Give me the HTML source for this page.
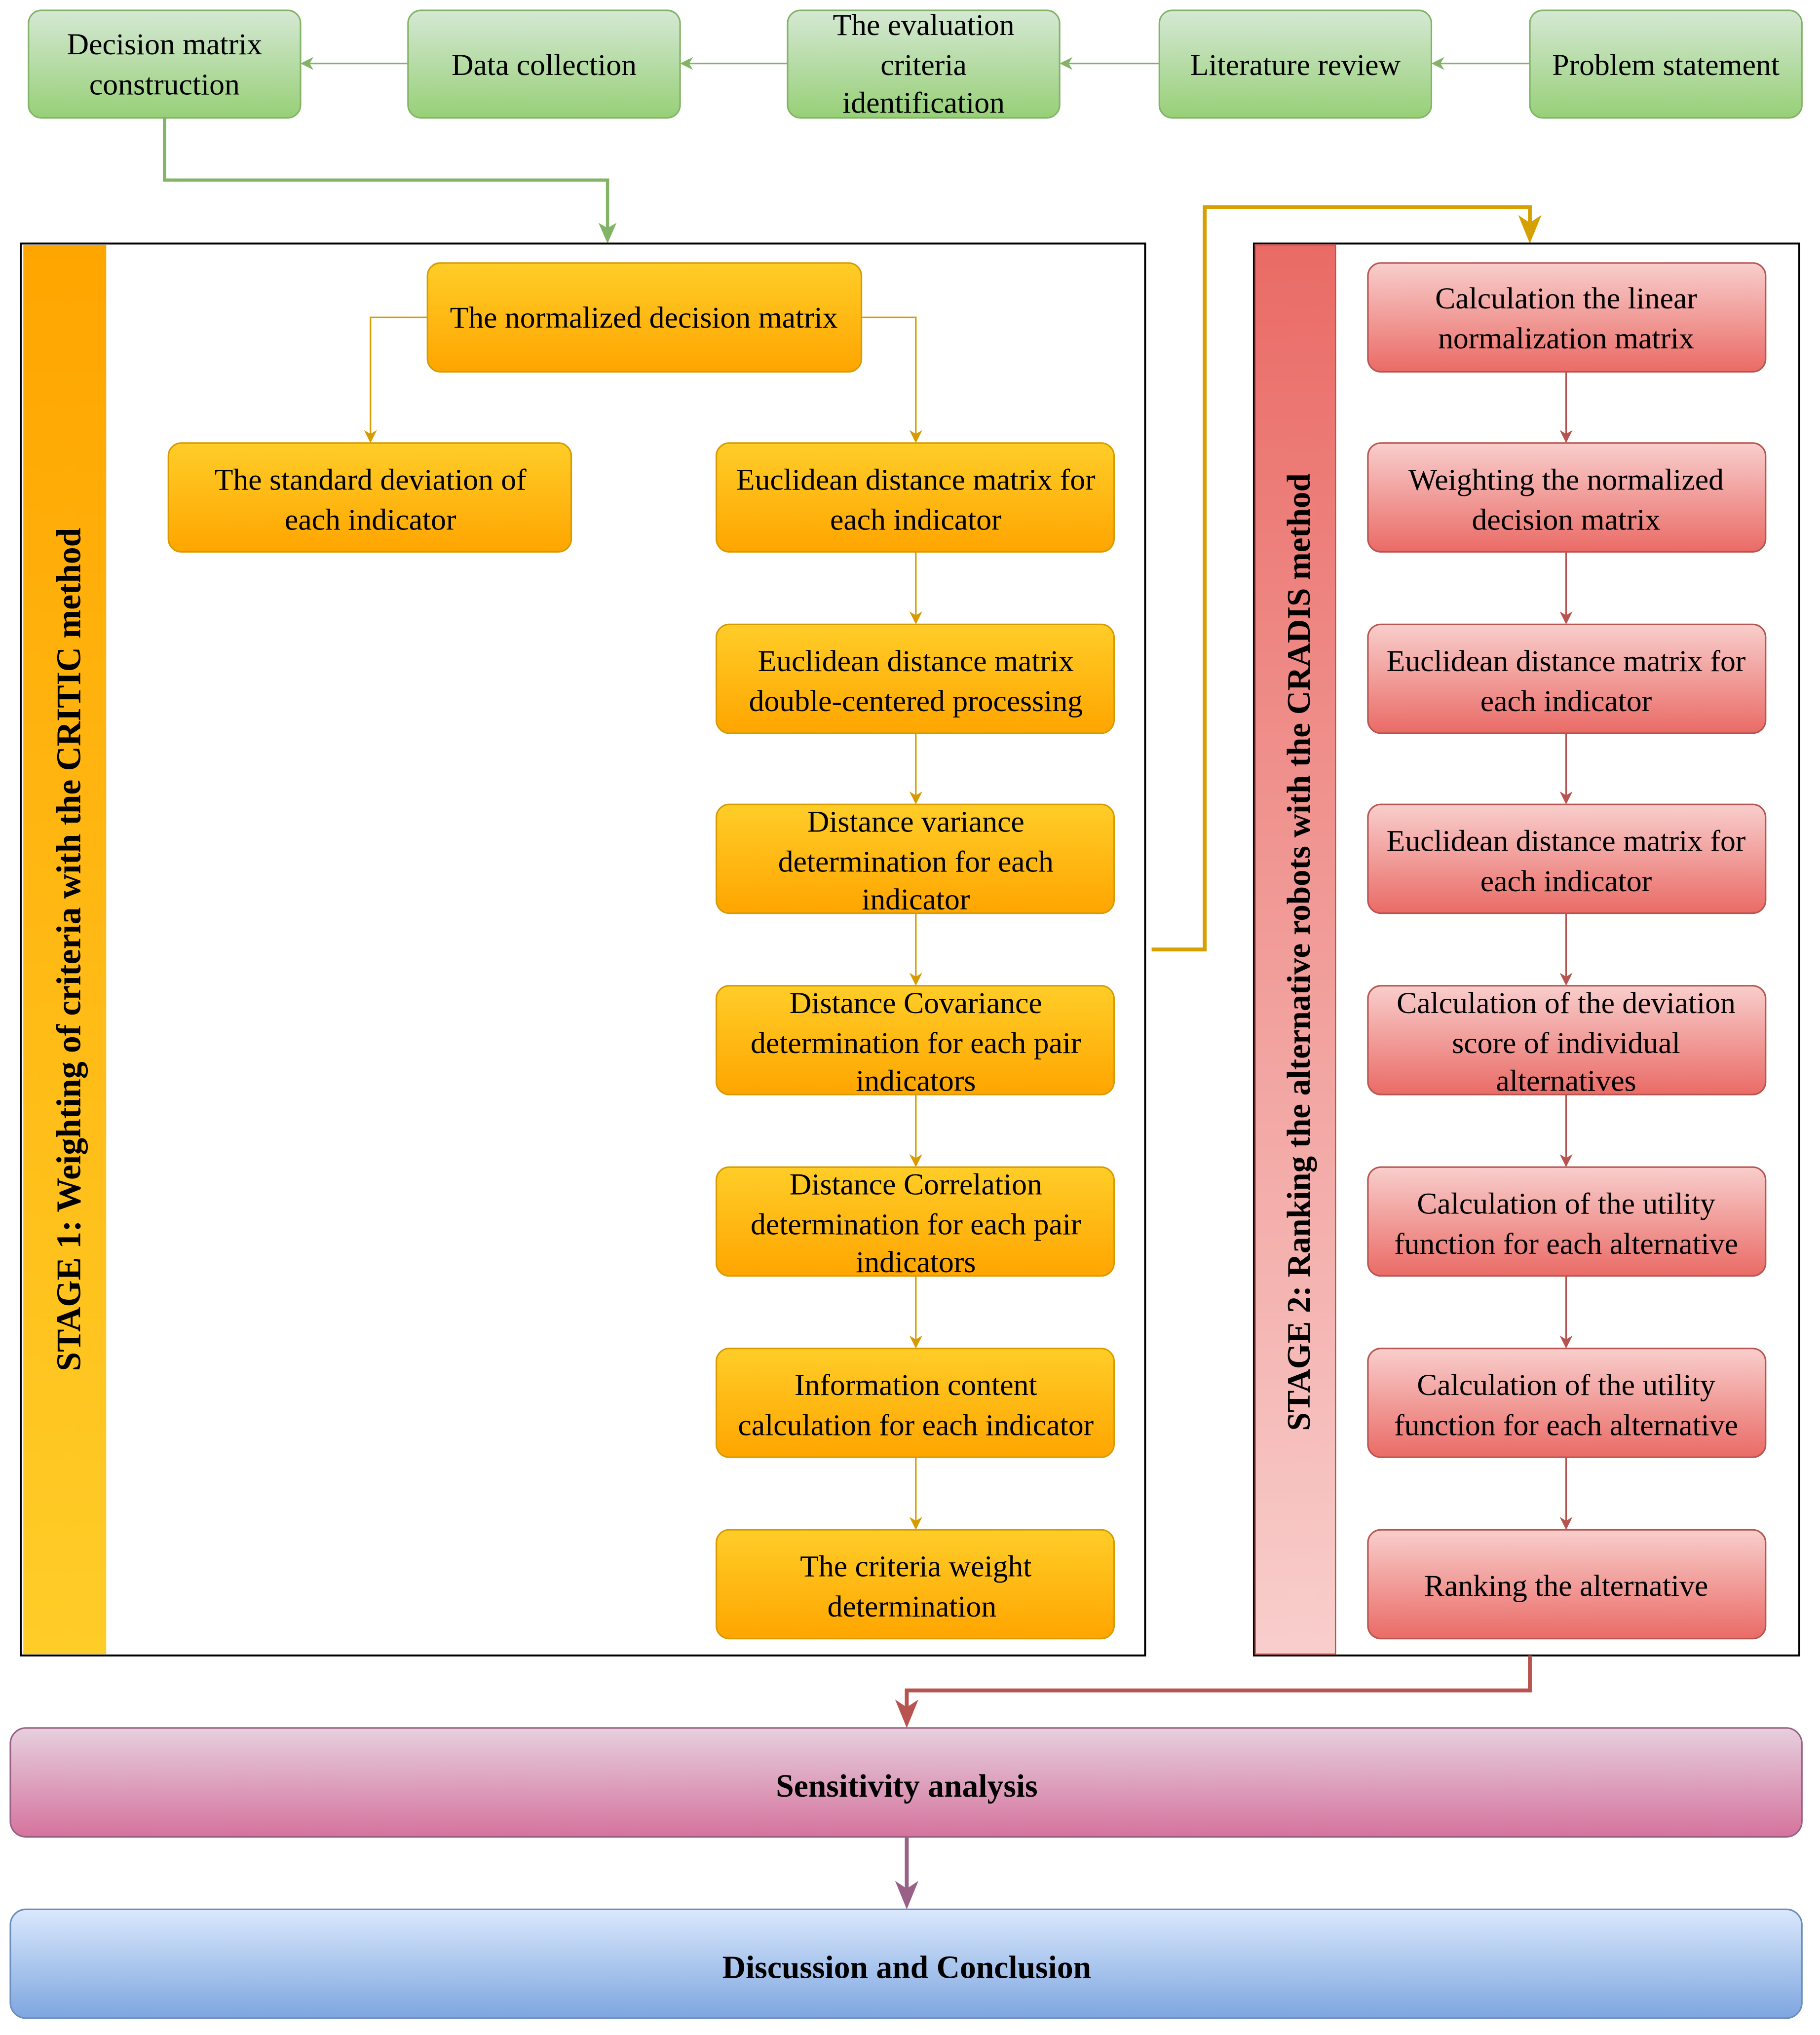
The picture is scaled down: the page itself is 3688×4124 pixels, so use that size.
<!DOCTYPE html>
<html><head><meta charset="utf-8"><style>html,body{margin:0;padding:0;background:#fff;}svg{display:block}</style></head>
<body>
<svg xmlns="http://www.w3.org/2000/svg" width="3688" height="4124" viewBox="0 0 1405 1571" preserveAspectRatio="none" style="font-family:'Liberation Serif',serif">
<defs>
<linearGradient id="g" x1="0" y1="0" x2="0" y2="1"><stop offset="0" stop-color="#d5e8d4"/><stop offset="1" stop-color="#97d077"/></linearGradient>
<linearGradient id="o" x1="0" y1="0" x2="0" y2="1"><stop offset="0" stop-color="#ffcd28"/><stop offset="1" stop-color="#ffa500"/></linearGradient>
<linearGradient id="ob" x1="0" y1="0" x2="0" y2="1"><stop offset="0" stop-color="#ffa500"/><stop offset="1" stop-color="#ffcd28"/></linearGradient>
<linearGradient id="r" x1="0" y1="0" x2="0" y2="1"><stop offset="0" stop-color="#f8cecc"/><stop offset="1" stop-color="#ea6b66"/></linearGradient>
<linearGradient id="rb" x1="0" y1="0" x2="0" y2="1"><stop offset="0" stop-color="#ea6b66"/><stop offset="1" stop-color="#f8cecc"/></linearGradient>
<linearGradient id="p" x1="0" y1="0" x2="0" y2="1"><stop offset="0" stop-color="#e6d0de"/><stop offset="1" stop-color="#d5739d"/></linearGradient>
<linearGradient id="b" x1="0" y1="0" x2="0" y2="1"><stop offset="0" stop-color="#dae8fc"/><stop offset="1" stop-color="#7ea6e0"/></linearGradient>
</defs>
<g font-size="23.5" text-anchor="middle" fill="#000">
<g fill="url(#g)" stroke="#82b366" stroke-width="1.2">
<rect x="22" y="8" width="210" height="83" rx="10"/>
<rect x="315" y="8" width="210" height="83" rx="10"/>
<rect x="608" y="8" width="210" height="83" rx="10"/>
<rect x="895" y="8" width="210" height="83" rx="10"/>
<rect x="1181" y="8" width="210" height="83" rx="10"/>
</g>
<text x="127" y="42">Decision matrix</text><text x="127" y="73">construction</text>
<text x="420" y="58">Data collection</text>
<text x="713" y="27">The evaluation</text><text x="713" y="58">criteria</text><text x="713" y="87">identification</text>
<text x="1000" y="58">Literature review</text>
<text x="1286" y="58">Problem statement</text>
<g stroke="#82b366" stroke-width="1.2" fill="none">
<line x1="315" y1="49" x2="236" y2="49"/><line x1="608" y1="49" x2="529" y2="49"/><line x1="895" y1="49" x2="822" y2="49"/><line x1="1181" y1="49" x2="1109" y2="49"/>
<polyline points="127,91 127,139 469,139 469,182" stroke-width="2.5"/>
</g>
<g fill="#82b366">
<polygon points="232,49 242,44 239,49 242,54"/><polygon points="525,49 535,44 532,49 535,54"/><polygon points="818,49 828,44 825,49 828,54"/><polygon points="1105,49 1115,44 1112,49 1115,54"/>
<polygon points="469,188 462,172 469,176 476,172"/>
</g>
<rect x="16" y="188" width="868" height="1090" fill="none" stroke="#000" stroke-width="1.5"/>
<rect x="18" y="189" width="64" height="1088" fill="url(#ob)"/>
<text transform="translate(62,733) rotate(-90)" font-weight="bold" font-size="26.5">STAGE 1: Weighting of criteria with the CRITIC method</text>
<g fill="url(#o)" stroke="#d79b00" stroke-width="1.2">
<rect x="330" y="203" width="335" height="84" rx="10"/>
<rect x="130" y="342" width="311" height="84" rx="10"/>
<rect x="553" y="342" width="307" height="84" rx="10"/>
<rect x="553" y="482" width="307" height="84" rx="10"/>
<rect x="553" y="621" width="307" height="84" rx="10"/>
<rect x="553" y="761" width="307" height="84" rx="10"/>
<rect x="553" y="901" width="307" height="84" rx="10"/>
<rect x="553" y="1041" width="307" height="84" rx="10"/>
<rect x="553" y="1181" width="307" height="84" rx="10"/>
</g>
<g stroke="#d79b00" stroke-width="1.2" fill="none">
<polyline points="330,245 286,245 286,336"/><polyline points="665,245 707,245 707,336"/>
<line x1="707" y1="426" x2="707" y2="476"/><line x1="707" y1="566" x2="707" y2="615"/><line x1="707" y1="705" x2="707" y2="755"/><line x1="707" y1="845" x2="707" y2="895"/><line x1="707" y1="985" x2="707" y2="1035"/><line x1="707" y1="1125" x2="707" y2="1175"/>
</g>
<g fill="#d79b00">
<polygon points="286,342 281,332 286,335 291,332"/><polygon points="707,342 702,332 707,335 712,332"/>
<polygon points="707,482 702,472 707,475 712,472"/><polygon points="707,621 702,611 707,614 712,611"/><polygon points="707,761 702,751 707,754 712,751"/><polygon points="707,901 702,891 707,894 712,891"/><polygon points="707,1041 702,1031 707,1034 712,1031"/><polygon points="707,1181 702,1171 707,1174 712,1171"/>
</g>
<text x="497" y="253">The normalized decision matrix</text>
<text x="286" y="378">The standard deviation of</text><text x="286" y="409">each indicator</text>
<text x="707" y="378">Euclidean distance matrix for</text><text x="707" y="409">each indicator</text>
<text x="707" y="518">Euclidean distance matrix</text><text x="707" y="549">double-centered processing</text>
<text x="707" y="642">Distance variance</text><text x="707" y="673">determination for each</text><text x="707" y="702">indicator</text>
<text x="707" y="782">Distance Covariance</text><text x="707" y="813">determination for each pair</text><text x="707" y="842">indicators</text>
<text x="707" y="922">Distance Correlation</text><text x="707" y="953">determination for each pair</text><text x="707" y="982">indicators</text>
<text x="707" y="1077">Information content</text><text x="707" y="1108">calculation for each indicator</text>
<text x="707" y="1217">The criteria weight</text><text x="704" y="1248">determination</text>
<polyline points="889,733 930,733 930,160 1181,160 1181,178" fill="none" stroke="#d6a000" stroke-width="3"/>
<polygon points="1181,188 1172,166 1181,172 1190,166" fill="#d6a000"/>
<rect x="968" y="188" width="421" height="1090" fill="none" stroke="#000" stroke-width="1.5"/>
<rect x="969" y="189" width="62" height="1088" fill="url(#rb)" stroke="#b85450" stroke-width="1"/>
<text transform="translate(1011,735) rotate(-90)" font-weight="bold" font-size="25.5">STAGE 2: Ranking the alternative robots with the CRADIS method</text>
<g fill="url(#r)" stroke="#b85450" stroke-width="1.2">
<rect x="1056" y="203" width="307" height="84" rx="10"/>
<rect x="1056" y="342" width="307" height="84" rx="10"/>
<rect x="1056" y="482" width="307" height="84" rx="10"/>
<rect x="1056" y="621" width="307" height="84" rx="10"/>
<rect x="1056" y="761" width="307" height="84" rx="10"/>
<rect x="1056" y="901" width="307" height="84" rx="10"/>
<rect x="1056" y="1041" width="307" height="84" rx="10"/>
<rect x="1056" y="1181" width="307" height="84" rx="10"/>
</g>
<g stroke="#b85450" stroke-width="1.2">
<line x1="1209" y1="287" x2="1209" y2="336"/><line x1="1209" y1="426" x2="1209" y2="476"/><line x1="1209" y1="566" x2="1209" y2="615"/><line x1="1209" y1="705" x2="1209" y2="755"/><line x1="1209" y1="845" x2="1209" y2="895"/><line x1="1209" y1="985" x2="1209" y2="1035"/><line x1="1209" y1="1125" x2="1209" y2="1175"/>
</g>
<g fill="#b85450">
<polygon points="1209,342 1204,332 1209,335 1214,332"/><polygon points="1209,482 1204,472 1209,475 1214,472"/><polygon points="1209,621 1204,611 1209,614 1214,611"/><polygon points="1209,761 1204,751 1209,754 1214,751"/><polygon points="1209,901 1204,891 1209,894 1214,891"/><polygon points="1209,1041 1204,1031 1209,1034 1214,1031"/><polygon points="1209,1181 1204,1171 1209,1174 1214,1171"/>
</g>
<text x="1209" y="238">Calculation the linear</text><text x="1209" y="269">normalization matrix</text>
<text x="1209" y="378">Weighting the normalized</text><text x="1209" y="409">decision matrix</text>
<text x="1209" y="518">Euclidean distance matrix for</text><text x="1209" y="549">each indicator</text>
<text x="1209" y="657">Euclidean distance matrix for</text><text x="1209" y="688">each indicator</text>
<text x="1209" y="782">Calculation of the deviation</text><text x="1209" y="813">score of individual</text><text x="1209" y="842">alternatives</text>
<text x="1209" y="937">Calculation of the utility</text><text x="1209" y="968">function for each alternative</text>
<text x="1209" y="1077">Calculation of the utility</text><text x="1209" y="1108">function for each alternative</text>
<text x="1209" y="1232">Ranking the alternative</text>
<polyline points="1181,1278 1181,1305 700,1305 700,1324" fill="none" stroke="#b85450" stroke-width="3"/>
<polygon points="700,1334 691,1312 700,1318 709,1312" fill="#b85450"/>
<rect x="8" y="1334" width="1383" height="84" rx="12" fill="url(#p)" stroke="#996185" stroke-width="1.2"/>
<text x="700" y="1387" font-weight="bold" font-size="25">Sensitivity analysis</text>
<line x1="700" y1="1418" x2="700" y2="1464" stroke="#996185" stroke-width="3"/>
<polygon points="700,1474 691,1452 700,1458 709,1452" fill="#996185"/>
<rect x="8" y="1474" width="1383" height="84" rx="12" fill="url(#b)" stroke="#6c8ebf" stroke-width="1.2"/>
<text x="700" y="1527" font-weight="bold" font-size="25">Discussion and Conclusion</text>
</g>
</svg>
</body></html>
